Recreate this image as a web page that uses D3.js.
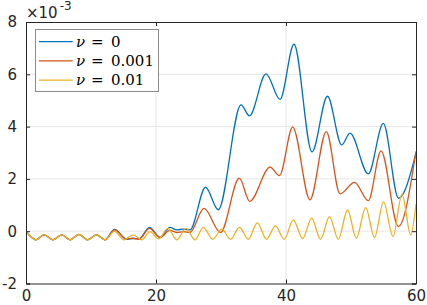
<!DOCTYPE html>
<html>
<head>
<meta charset="utf-8">
<script src="https://cdn.jsdelivr.net/npm/d3@7"></script>
<style>
  body { margin: 0; background: #fff; }
  svg { display: block; }
</style>
</head>
<body>
<div id="chart"></div>
<script>
// values are in units of 1e-3
const xTicks = [0, 20, 40, 60];
const yTicks = [-2, 0, 2, 4, 6, 8];
const nuLabels = ["0", "0.001", "0.01"];

const blueX = [0, 1.54, 2.77, 4.15, 5.49, 6.77, 8.15, 9.46, 10.85, 12.15, 13.62, 15.46, 16.46, 17.38, 19.0, 20.62, 22.15, 23.18, 24.2, 25.23, 27.62, 29.58, 33.08, 34.38, 36.92, 39.08, 41.23, 44.0, 46.38, 48.57, 49.85, 52.66, 54.97, 57.31, 60];
const blueY = [0, -0.33, -0.14, -0.33, -0.14, -0.33, -0.12, -0.33, -0.14, -0.33, 0.07, -0.31, -0.27, -0.29, 0.15, -0.24, 0.15, 0.05, 0.08, 0.05, 1.68, 0.82, 4.83, 4.41, 6.02, 5.04, 7.15, 3.03, 5.16, 3.3, 3.75, 2.19, 4.12, 1.26, 2.98];

const redX = [0, 1.54, 2.77, 4.15, 5.49, 6.77, 8.15, 9.46, 10.85, 12.15, 13.62, 15.46, 16.46, 17.38, 19.0, 20.62, 22.15, 23.18, 24.2, 25.23, 27.38, 29.92, 32.82, 34.42, 37.54, 39.0, 41.03, 43.69, 46.2, 48.31, 50.54, 52.66, 54.62, 57.28, 60];
const redY = [0, -0.33, -0.14, -0.33, -0.14, -0.33, -0.12, -0.33, -0.14, -0.33, 0.05, -0.29, -0.28, -0.31, 0.11, -0.24, 0.03, -0.05, -0.02, -0.05, 0.87, -0.05, 2.03, 1.14, 2.45, 2.13, 3.98, 1.2, 3.81, 1.43, 1.87, 1.17, 3.07, 0.18, 3.05];

const yellowX = [0, 1.54, 2.77, 4.15, 5.49, 6.77, 8.15, 9.46, 10.85, 12.15, 13.62, 15.08, 16.46, 17.8, 19.08, 20.38, 21.85, 23.18, 24.62, 26.0, 27.28, 28.72, 30.11, 31.49, 32.82, 34.2, 35.58, 37.0, 38.38, 39.74, 41.12, 42.57, 43.95, 45.31, 46.69, 48.05, 49.46, 50.82, 52.26, 53.62, 55.0, 56.46, 57.85, 59.18, 60];
const yellowY = [0, -0.33, -0.14, -0.33, -0.14, -0.33, -0.12, -0.33, -0.14, -0.33, -0.01, -0.33, -0.14, -0.33, -0.02, -0.29, 0.11, -0.33, 0.11, -0.33, 0.15, -0.31, 0.08, -0.31, 0.15, -0.31, 0.32, -0.31, 0.2, -0.31, 0.43, -0.28, 0.5, -0.31, 0.56, -0.31, 0.81, -0.27, 0.9, -0.24, 1.12, -0.2, 1.42, -0.14, 1.04];

const series = [
  { nu: nuLabels[0], xs: blueX, ys: blueY, color: "#0072BD" },
  { nu: nuLabels[1], xs: redX, ys: redY, color: "#D95319" },
  { nu: nuLabels[2], xs: yellowX, ys: yellowY, color: "#EDB120" }
];

const width = 427;
const height = 305;
const margin = { top: 22, right: 11, bottom: 21.5, left: 26 };
const axisColor = "#262626";
const tickFont = "'DejaVu Sans', Verdana, sans-serif";

const svg = d3.select("#chart")
  .append("svg")
  .attr("width", width)
  .attr("height", height);

const x = d3.scaleLinear()
  .domain([0, 60])
  .range([margin.left, width - margin.right]);

const y = d3.scaleLinear()
  .domain([-2, 8])
  .range([height - margin.bottom, margin.top]);

// grid
svg.append("g")
  .selectAll("line")
  .data(xTicks.slice(1, -1))
  .join("line")
  .attr("x1", d => x(d)).attr("x2", d => x(d))
  .attr("y1", y(-2)).attr("y2", y(8))
  .attr("stroke", "#e6e6e6")
  .attr("stroke-width", 1);

svg.append("g")
  .selectAll("line")
  .data(yTicks.slice(1, -1))
  .join("line")
  .attr("x1", x(0)).attr("x2", x(60))
  .attr("y1", d => y(d)).attr("y2", d => y(d))
  .attr("stroke", "#e6e6e6")
  .attr("stroke-width", 1);

svg.append("clipPath")
  .attr("id", "plot-clip")
  .append("rect")
  .attr("x", x(0)).attr("y", y(8))
  .attr("width", x(60) - x(0))
  .attr("height", y(-2) - y(8));

const line = d3.line()
  .x(d => x(d[0]))
  .y(d => y(d[1]))
  .curve(d3.curveMonotoneX);

svg.append("g")
  .attr("clip-path", "url(#plot-clip)")
  .selectAll("path")
  .data(series)
  .join("path")
  .attr("fill", "none")
  .attr("stroke", d => d.color)
  .attr("stroke-width", 1.3)
  .attr("d", d => line(d.xs.map((v, i) => [v, d.ys[i]])));

// axes (box with inward ticks on all sides)
const tickLen = 4;
const plain = d => String(d);

svg.append("g")
  .attr("transform", `translate(0,${y(-2)})`)
  .call(d3.axisBottom(x).tickValues(xTicks).tickSize(-tickLen).tickPadding(6.5).tickFormat(plain))
  .call(g => g.select(".domain").attr("stroke", axisColor))
  .call(g => g.selectAll(".tick line").attr("stroke", axisColor))
  .call(g => g.selectAll("text")
    .attr("fill", axisColor)
    .style("font-size", "15px")
    .style("font-family", tickFont));

svg.append("g")
  .attr("transform", `translate(0,${y(8)})`)
  .call(d3.axisTop(x).tickValues(xTicks).tickSize(-tickLen).tickFormat(""))
  .call(g => g.select(".domain").attr("stroke", axisColor))
  .call(g => g.selectAll(".tick line").attr("stroke", axisColor));

svg.append("g")
  .attr("transform", `translate(${x(0)},0)`)
  .call(d3.axisLeft(y).tickValues(yTicks).tickSize(-tickLen).tickPadding(9).tickFormat(plain))
  .call(g => g.select(".domain").attr("stroke", axisColor))
  .call(g => g.selectAll(".tick line").attr("stroke", axisColor))
  .call(g => g.selectAll("text")
    .attr("fill", axisColor)
    .style("font-size", "15px")
    .style("font-family", tickFont));

svg.append("g")
  .attr("transform", `translate(${x(60)},0)`)
  .call(d3.axisRight(y).tickValues(yTicks).tickSize(-tickLen).tickFormat(""))
  .call(g => g.select(".domain").attr("stroke", axisColor))
  .call(g => g.selectAll(".tick line").attr("stroke", axisColor));

// exponent label
const expo = svg.append("text")
  .attr("x", 26)
  .attr("y", 17.5)
  .attr("fill", axisColor)
  .style("font-family", tickFont)
  .style("font-size", "15px");
expo.append("tspan").text("×10");
expo.append("tspan").attr("dx", 2).attr("dy", -8).style("font-size", "12px").text("-3");

// legend
const legend = svg.append("g");
legend.append("rect")
  .attr("x", 35.5).attr("y", 29.5)
  .attr("width", 123).attr("height", 62)
  .attr("fill", "#fff")
  .attr("stroke", "#8c8c8c")
  .attr("stroke-width", 1);

const rows = legend.selectAll("g.row")
  .data(series)
  .join("g")
  .attr("class", "row")
  .attr("transform", (d, i) => `translate(0,${41.7 + i * 19.2})`);

rows.append("line")
  .attr("x1", 39).attr("x2", 72.7)
  .attr("stroke", d => d.color)
  .attr("stroke-width", 1.3);

const serif = "'DejaVu Serif', 'Liberation Serif', serif";
rows.append("text")
  .attr("x", 76).attr("y", 5)
  .attr("fill", "#000")
  .style("font-family", serif)
  .style("font-size", "15px")
  .style("font-style", "italic")
  .text("ν");
rows.append("text")
  .attr("x", 91).attr("y", 5)
  .attr("fill", "#000")
  .style("font-family", serif)
  .style("font-size", "15px")
  .text("=");
rows.append("text")
  .attr("x", 111).attr("y", 5)
  .attr("fill", "#000")
  .style("font-family", serif)
  .style("font-size", "15px")
  .text(d => d.nu);
</script>
</body>
</html>
